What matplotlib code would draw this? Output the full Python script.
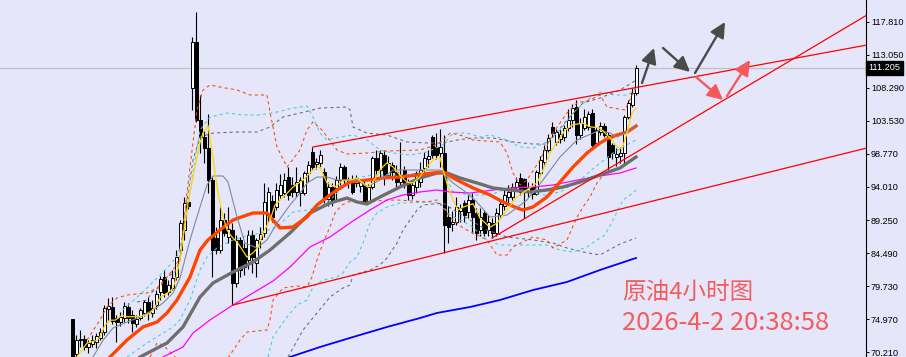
import numpy as np
import matplotlib.pyplot as plt
from matplotlib.transforms import blended_transform_factory

plt.rcParams['font.family'] = ['Noto Sans CJK SC', 'DejaVu Sans']

BG = '#e6e6fa'

# 4h candles, oldest first (open, high, low, close)
opens = [74.97, 69.90, 71.90, 72.10, 70.90, 71.40, 71.60, 72.20, 73.10, 76.40,
         76.70, 75.10, 74.60, 75.10, 76.70, 75.50, 74.20, 75.10, 75.90, 77.40,
         75.90, 77.00, 78.90, 81.00, 78.90, 79.40, 81.00, 84.90, 87.80, 91.80,
         108.30, 114.90, 103.70, 101.20, 99.60, 95.00, 86.60, 84.90, 89.25, 86.80,
         87.80, 80.20, 86.40, 85.20, 83.50, 87.10, 83.00, 86.50, 87.40, 90.00,
         92.00, 91.10, 92.90, 93.10, 95.40, 94.30, 93.30, 93.10, 93.10, 96.00,
         99.10, 97.30, 97.50, 96.20, 92.30, 94.00, 93.90, 95.00, 96.90, 94.70,
         95.00, 94.60, 94.20, 94.30, 91.90, 94.00, 98.20, 96.50, 98.60, 95.70,
         97.20, 96.20, 94.70, 96.50, 94.70, 92.90, 94.00, 94.70, 96.80, 98.00,
         101.20, 99.80, 98.90, 98.90, 89.70, 88.70, 89.00, 90.60, 91.70, 90.40,
         92.10, 90.30, 87.80, 90.30, 87.80, 88.80, 87.40, 90.00, 91.30, 92.60,
         92.60, 94.00, 95.30, 95.20, 93.30, 94.00, 93.00, 96.00, 97.60, 99.30,
         102.60, 100.50, 101.00, 101.20, 102.50, 103.70, 105.50, 101.50, 102.50, 102.70,
         104.70, 100.30, 102.00, 102.80, 101.50, 100.00, 98.30, 98.50, 98.90, 104.11,
         105.84, 107.57]
highs = [74.97, 72.70, 73.40, 72.70, 71.90, 72.70, 73.00, 73.70, 77.00, 78.00,
         78.20, 75.50, 76.00, 77.40, 77.30, 76.30, 75.50, 76.50, 77.70, 78.20,
         77.70, 79.15, 81.20, 82.00, 80.60, 82.00, 84.90, 89.25, 92.60, 92.60,
         115.65, 119.25, 107.30, 102.20, 104.50, 95.45, 88.20, 91.10, 90.30, 91.10,
         88.80, 87.10, 86.80, 85.90, 87.80, 87.80, 86.70, 88.20, 94.60, 94.00,
         92.80, 94.60, 95.90, 96.00, 96.90, 95.50, 96.90, 95.50, 96.30, 97.70,
         99.78, 98.20, 99.40, 96.70, 94.80, 94.60, 95.60, 97.50, 97.20, 95.50,
         95.70, 95.80, 95.20, 95.00, 94.50, 98.50, 99.30, 99.40, 99.35, 98.50,
         97.60, 97.20, 100.50, 97.00, 95.20, 95.00, 96.30, 97.60, 99.00, 99.30,
         101.50, 101.80, 102.40, 101.50, 91.20, 90.60, 92.60, 91.60, 92.10, 92.90,
         93.10, 91.00, 91.00, 90.70, 89.90, 89.50, 91.00, 92.30, 93.60, 94.30,
         94.60, 95.40, 96.00, 95.30, 94.80, 94.60, 96.50, 98.50, 100.00, 101.60,
         103.40, 102.40, 102.40, 103.00, 105.20, 106.00, 106.60, 104.00, 105.20, 105.00,
         105.30, 102.60, 103.40, 103.20, 101.90, 100.40, 99.60, 99.80, 104.40, 106.50,
         108.30, 111.60]
lows = [69.50, 69.50, 70.90, 70.50, 70.10, 71.00, 70.80, 71.90, 72.60, 74.80,
        74.30, 71.70, 74.00, 74.50, 74.40, 73.10, 73.80, 74.80, 75.40, 74.80,
        75.30, 76.40, 77.70, 78.10, 78.40, 79.15, 80.60, 84.20, 86.40, 90.90,
        105.10, 103.40, 98.90, 97.50, 93.10, 81.00, 84.40, 84.50, 86.90, 85.90,
        77.00, 79.60, 81.00, 81.30, 82.20, 81.60, 81.00, 85.20, 86.80, 89.00,
        88.90, 90.70, 92.40, 92.60, 92.10, 92.60, 92.60, 91.20, 92.80, 94.80,
        96.50, 96.60, 96.70, 91.70, 91.20, 91.30, 92.00, 94.30, 94.30, 93.90,
        93.00, 94.00, 93.30, 91.70, 91.50, 93.70, 95.60, 95.20, 94.30, 95.60,
        95.00, 94.00, 94.30, 93.80, 92.10, 92.30, 93.10, 94.00, 95.80, 96.90,
        98.20, 98.00, 96.90, 84.49, 86.00, 87.70, 88.50, 89.00, 89.00, 89.60,
        87.40, 86.40, 87.00, 86.90, 87.00, 86.65, 87.00, 89.60, 90.70, 91.70,
        92.10, 93.50, 92.80, 89.50, 92.60, 92.30, 92.80, 95.80, 97.10, 99.10,
        101.20, 100.00, 100.40, 100.60, 102.10, 102.60, 100.20, 101.00, 102.20, 102.20,
        99.60, 100.00, 101.50, 101.20, 96.46, 98.00, 97.10, 97.50, 97.47, 103.80,
        105.60, 107.30]
closes = [69.60, 71.90, 72.10, 70.90, 71.50, 71.90, 72.50, 73.10, 76.50, 76.80,
          74.70, 74.60, 75.30, 76.90, 75.10, 74.40, 74.90, 76.20, 77.40, 76.00,
          76.50, 78.60, 80.75, 78.70, 79.90, 80.90, 83.90, 88.80, 91.70, 91.30,
          114.90, 103.70, 101.20, 99.60, 95.00, 84.90, 84.90, 89.25, 87.40, 88.00,
          80.20, 86.40, 82.00, 82.50, 87.10, 83.90, 86.40, 87.20, 91.80, 93.30,
          89.70, 93.60, 94.30, 95.00, 92.90, 93.30, 94.70, 95.00, 96.00, 97.20,
          96.90, 97.60, 98.60, 92.30, 94.00, 92.00, 95.00, 96.90, 95.00, 95.00,
          93.30, 95.30, 94.90, 91.90, 94.00, 98.20, 96.50, 98.90, 95.70, 97.50,
          96.20, 94.70, 95.50, 94.60, 92.90, 94.30, 96.00, 96.50, 98.20, 98.50,
          98.60, 98.60, 99.80, 88.60, 88.20, 88.90, 91.10, 91.00, 90.00, 92.10,
          89.70, 87.40, 89.70, 87.40, 89.00, 87.40, 90.30, 91.60, 92.90, 93.30,
          94.00, 94.70, 93.30, 93.70, 93.90, 93.00, 96.20, 97.90, 99.30, 101.10,
          101.80, 101.90, 101.70, 102.50, 103.70, 105.40, 101.50, 103.20, 104.10, 104.50,
          100.00, 102.30, 102.80, 101.50, 98.34, 98.90, 98.80, 98.90, 104.11, 106.13,
          107.57, 111.205]
last_price = 111.205

price_ticks = [70.21, 74.97, 79.73, 84.49, 89.25, 94.01, 98.77, 103.53, 108.29, 113.05, 117.81]

# indicator lines as (bar, price)
ma_fast = [(1.25, 69.5), (3.75, 71.5), (6.25, 71.9), (7, 72.4), (8.25, 74.1), (9.5, 74.8),
           (10.75, 74.8), (12.5, 75.5), (13.75, 75.3), (16.25, 75.3), (18.25, 75.5), (19.5, 75.8),
           (20.75, 76.7), (22, 78.1), (23.75, 78.7), (25, 79.2), (25.75, 80.3), (27, 83.5),
           (29, 91.7), (30.75, 96.9), (32, 100.4), (32.75, 101.8), (34, 102.9), (35, 99.3),
           (36.25, 94.0), (37.5, 90.3), (38.75, 87.8), (40, 86.8), (41.5, 85.9), (43.75, 83.9),
           (45.25, 84.5), (46.5, 85.3), (47.75, 87.4), (49.5, 89.25), (50.75, 91.4), (53.75, 93.1),
           (55.25, 94.0), (57.75, 95.0), (60.25, 96.5), (62, 96.9), (63.75, 94.6), (65.75, 94.0),
           (67.75, 95.0), (69.5, 95.0), (71.25, 95.3), (72.75, 94.6), (74, 94.0), (75.25, 94.7),
           (77, 96.5), (78.75, 97.5), (80.25, 96.9), (82, 95.7), (83.75, 94.7), (85.25, 94.6),
           (87, 95.5), (88.75, 96.9), (90.25, 97.9), (92, 98.3), (92.75, 96.5), (94, 94.0),
           (95.25, 92.1), (96.5, 90.7), (97.75, 91.1), (100.25, 91.6), (102, 89.5), (104.5, 88.2),
           (106.25, 88.8), (108.75, 90.7), (111.25, 92.6), (113.75, 93.6), (116.25, 94.6),
           (117.75, 96.5), (119.5, 98.9), (121.25, 100.4), (123.25, 102.2), (125.25, 103.0),
           (127.75, 103.2), (129.5, 102.7), (132, 102.5), (133.25, 101.8), (134.5, 101.1),
           (136.25, 99.8), (137.5, 99.5), (138.75, 101.8), (140, 104.7), (141, 105.4)]
ma_mid = [(5.25, 69.5), (7.75, 71.9), (10.25, 73.67), (13.75, 74.54), (17, 75.26), (20.25, 76.27),
          (22.75, 77.28), (25.25, 78.72), (27, 80.88), (29.5, 86.37), (32, 91.13), (33.75, 94.30),
          (35.25, 95.60), (37.75, 95.60), (39, 94.73), (41.25, 89.68), (43.25, 85.93), (46.25, 85.21),
          (48.75, 86.37), (51.25, 88.82), (54.5, 91.41), (57, 93.14), (58.75, 94.59), (61.25, 95.45),
          (63.75, 95.45), (66.25, 95.02), (71.25, 95.02), (73.75, 94.01), (77, 95.02), (80.25, 96.46),
          (88.75, 96.46), (92, 96.46), (95.25, 94.59), (97.75, 93.58), (100.75, 92.14), (104.5, 89.68),
          (108.75, 89.97), (113.75, 92.14), (117.75, 95.02), (122, 98.34), (126.25, 100.79),
          (130.25, 101.79), (132, 102.23), (134.5, 101.79), (136.25, 101.22), (138.75, 101.94),
          (141, 102.95)]
ma_orange = [(9.5, 69.49), (13.75, 71.94), (17.75, 73.82), (21.25, 74.54), (23.75, 75.84),
             (26.25, 77.71), (29.5, 81.03), (32, 84.92), (34, 86.37), (37, 87.81), (40.25, 89.25),
             (43.75, 89.97), (45.25, 90.26), (48.75, 90.26), (50.25, 89.25), (52, 88.10), (55.25, 88.24),
             (58.75, 89.68), (61.25, 91.41), (64.5, 92.86), (66.25, 93.58), (69.5, 94.73), (73.75, 95.02),
             (77.75, 95.31), (82, 95.45), (86.25, 95.74), (90.25, 96.03), (92.75, 96.17), (96.25, 95.02),
             (100.25, 93.87), (104.5, 92.86), (107.75, 91.85), (111.25, 90.98), (112.75, 90.69),
             (115.25, 91.13), (118.75, 92.57), (122, 94.73), (125.25, 96.89), (128.75, 98.91),
             (132, 100.36), (133.75, 100.93), (136.25, 101.51), (138.75, 101.94), (141, 102.81)]
ma_gray = [(17, 69.49), (23.75, 71.51), (27.75, 73.82), (32, 78.14), (35.25, 80.16), (40.25, 81.75),
           (45.25, 83.19), (49.5, 84.92), (54.5, 87.38), (59.5, 90.26), (64.5, 91.70), (68.75, 92.42),
           (71.25, 91.85), (73.75, 91.56), (77, 92.57), (82, 94.01), (87, 95.31), (91.25, 96.03),
           (93.75, 96.03), (97, 95.31), (101.25, 94.59), (105.25, 93.87), (109.5, 93.58), (114.5, 93.29),
           (118.75, 93.58), (122.75, 94.01), (127, 94.73), (132, 95.74), (137, 96.75), (141, 98.34)]
ma_magenta = [(22.75, 69.49), (27.75, 70.93), (30.25, 72.95), (34.5, 74.83), (40.25, 76.99),
              (45.25, 78.72), (50.25, 80.45), (54.5, 82.47), (59.5, 85.36), (64.5, 86.80), (69.5, 88.82),
              (74.5, 90.69), (78.75, 92.14), (82.75, 92.86), (87, 93.29), (91.25, 93.58), (94.5, 93.29),
              (99.5, 93.14), (105.25, 93.58), (110.25, 93.87), (115.25, 94.01), (120.25, 94.30),
              (125.25, 94.88), (130.25, 95.45), (137, 96.03), (141, 96.75)]
ma_blue = [(54.5, 69.49), (62, 70.93), (70.25, 72.37), (78.75, 73.82), (87, 75.11), (91.25, 75.84),
           (99.5, 76.70), (107, 77.71), (115.25, 79.15), (123.75, 80.31), (132, 82.04), (141, 83.77)]

band_orange_up = [(3.75, 71.94), (7, 74.83), (8.75, 76.70), (11.25, 78.0), (13.75, 78.43), (18.75, 78.72),
                  (21.25, 79.44), (23.75, 81.03), (25.75, 82.47), (27, 83.91), (27.75, 88.24), (29.5, 96.89),
                  (31.25, 105.12), (32.75, 108.0), (34.5, 108.72), (37, 108.43), (41.25, 108.0),
                  (44.5, 107.28), (48.75, 107.28), (49.5, 104.83), (51.25, 99.78), (53.75, 96.89),
                  (57, 99.35), (58.75, 102.23), (60.25, 103.39), (62.5, 102.23), (66.25, 99.35),
                  (68.75, 98.77), (73.75, 98.91), (78.75, 99.20), (87, 99.35), (89.5, 99.78), (92, 100.36),
                  (94.5, 101.79), (97, 101.51), (100.25, 100.79), (107, 100.50), (108.75, 98.91),
                  (110.25, 96.03), (112, 94.30), (113.75, 95.02), (117, 97.90), (120.25, 101.79),
                  (123.75, 104.68), (126.25, 106.13), (129.5, 106.56), (132, 107.28), (133.75, 105.55),
                  (138.25, 105.12), (140, 107.28), (141, 108.29)]
band_orange_dn = [(19.5, 69.49), (21.25, 71.51), (22.75, 71.22), (24.5, 70.21), (26, 69.35),
                  (np.nan, np.nan),
                  (39, 69.35), (40, 70.21), (42, 71.94), (43.75, 73.09), (48.75, 73.38), (49.5, 74.83),
                  (50.25, 77.71), (52.75, 79.44), (56.25, 79.73), (58.75, 79.59), (60, 81.03),
                  (61.25, 83.48), (62.75, 85.93), (64.5, 88.24), (65.75, 90.26), (67.5, 91.41),
                  (69, 91.85), (81.25, 92.14), (88.75, 91.85), (91.25, 92.14), (94.5, 89.68),
                  (97.75, 88.10), (100.25, 87.38), (103.75, 86.37), (106.25, 84.20), (108.75, 84.20),
                  (110.25, 85.36), (113.75, 86.37), (115.25, 86.80), (118.75, 86.37), (120.25, 85.21),
                  (123.75, 86.37), (126.25, 89.68), (127.75, 91.13), (129.5, 92.57), (131.25, 94.59),
                  (133.75, 96.46)]
band_cyan_up = [(12.75, 76.27), (18.75, 79.44), (22, 81.32), (24.5, 82.76), (26.5, 84.20), (28.25, 88.24),
                (30, 95.45), (32, 102.23), (34.5, 104.11), (38.75, 104.68), (42.75, 104.40), (47, 104.40),
                (51.25, 104.83), (55.25, 105.40), (58.75, 105.69), (60.25, 104.11), (62, 101.79),
                (63.75, 100.79), (67, 101.22), (70.25, 101.51), (73.75, 100.79), (77, 99.35), (80.25, 98.91),
                (84.5, 98.63), (88.75, 99.06), (92.75, 100.07), (95.25, 101.79), (98.75, 101.79),
                (102, 101.22), (104.5, 101.51), (108.75, 100.79), (112, 99.78), (115.25, 99.63),
                (118.75, 100.50), (122, 102.23), (125.25, 104.68), (128.75, 106.56), (132, 107.71),
                (135.75, 107.28), (139, 107.28), (141, 108.29)]
band_cyan_mid = [(13.75, 69.49), (18.75, 71.51), (22, 72.66), (25.25, 73.82), (27, 74.83), (29.5, 77.71),
                 (32, 82.04), (33.75, 83.91), (36.25, 85.21), (40.25, 86.37), (43.75, 86.94), (47, 87.38),
                 (51.25, 88.24), (55.25, 90.40), (58.75, 90.69), (62, 91.13), (64.5, 92.14), (67, 93.58),
                 (69.5, 94.59), (72, 95.45), (75.25, 95.74), (82, 95.74), (89.5, 96.17), (93.25, 95.74),
                 (95.25, 93.29), (99.5, 92.86), (104.5, 92.86), (107.75, 93.58), (111.25, 93.58),
                 (114.5, 93.14), (118.25, 92.86), (122, 93.29), (127, 95.02), (130.75, 96.89),
                 (135.25, 98.91), (139.5, 100.36), (141, 100.79)]
band_cyan_dn = [(49, 69.49), (50.25, 72.37), (53.75, 75.26), (56.25, 76.99), (58.75, 77.71), (60.25, 79.59),
                (62.75, 80.60), (66.25, 81.03), (67.75, 81.61), (69.5, 83.19), (71.25, 83.91), (72.75, 85.93),
                (74.5, 88.82), (76.25, 90.26), (78.75, 91.13), (82, 91.70), (89.5, 91.85), (92, 91.70),
                (94.5, 89.97), (97, 89.25), (99.5, 88.53), (103.75, 86.37), (107, 85.64), (118.75, 85.64),
                (122, 84.92), (125.25, 84.64), (128.75, 85.36), (131.25, 86.37), (133.25, 87.09),
                (135.25, 89.25), (137.75, 92.14), (140.25, 93.14), (141, 93.58)]
band_gray_up = [(16.25, 77.42), (18.75, 77.71), (20, 78.87), (22, 79.59), (23.75, 81.03), (25.75, 81.75),
                (27, 83.48), (28.75, 92.14), (30.25, 97.90), (32, 101.22), (35.25, 101.79), (41.25, 101.94),
                (46.25, 101.94), (49.5, 102.66), (52.75, 104.11), (57, 104.68), (62, 105.40), (68.75, 105.55),
                (69.5, 105.12), (70.25, 102.66), (73.75, 101.79), (78.75, 101.51), (83.75, 100.50),
                (88.75, 100.36), (92.75, 100.36), (96.25, 100.79), (100.25, 101.08), (105.25, 101.08),
                (110.25, 100.50), (115.25, 100.21), (118.75, 100.21), (123.75, 103.67), (127.75, 106.13),
                (132, 106.85), (137, 108.0), (140.25, 109.15), (141, 109.44)]
band_gray_dn = [(54, 69.49), (57.75, 73.38), (61.25, 75.84), (64.5, 78.14), (67.75, 79.44), (69.5, 79.87),
                (70.25, 81.32), (74.5, 82.04), (77, 82.76), (78.75, 83.77), (81.25, 85.93), (82.75, 87.81),
                (84.5, 89.25), (86.25, 90.69), (87.75, 91.41), (92.75, 91.70), (96.25, 90.40), (99.5, 89.25),
                (103.75, 87.81), (108.75, 86.80), (115.25, 86.37), (120.25, 85.93), (123.75, 85.21),
                (127.75, 84.64), (132, 84.20), (137, 85.79), (141, 86.65)]

# hand-drawn trendlines (two anchor points each, extended to the right edge)
trend_upper = [(60.25, 99.78), (198.75, 114.49)]
trend_lower = [(40.25, 76.99), (198.75, 99.64)]
trend_steep = [(105, 86.65), (198.75, 118.82)]

# forecast arrows (start, end)
gray_arrows = [((142.5, 109.01), (145.5, 114.06)),
               ((147.75, 114.06), (154.5, 110.6)),
               ((155.75, 110.45), (163.25, 117.81))]
red_arrows = [((156, 109.88), (162.75, 106.56)),
              ((163.75, 107.14), (169.5, 112.33))]

title_cn = '原油4小时图'
stamp = '2026-4-2 20:38:58'


fig = plt.figure(figsize=(9.06, 3.57), dpi=100, facecolor=BG)
ax = fig.add_axes([0, 0, 866 / 906, 1], facecolor=BG)
ax.set_xlim(-18, 198.5)
ax.set_ylim(69.489, 120.983)

# current price line
ax.axhline(last_price, color='#c0c0c0', lw=0.9, zorder=1)

# candles
idx = np.arange(len(opens))
o = np.array(opens)
c = np.array(closes)
ax.vlines(idx, lows, highs, color='black', lw=0.8, zorder=2)
bull = c >= o
body_lo = np.minimum(o, c)
body_h = np.maximum(np.abs(c - o), 0.08)
ax.bar(idx[bull], body_h[bull], bottom=body_lo[bull], width=0.75,
       facecolor='white', edgecolor='black', lw=0.7, zorder=3)
ax.bar(idx[~bull], body_h[~bull], bottom=body_lo[~bull], width=0.75,
       facecolor='black', edgecolor='black', lw=0.7, zorder=3)


def draw(points, **kw):
    xs, ys = zip(*points)
    ax.plot(xs, ys, **kw)


dash = (0, (3, 3))
draw(band_gray_up, color='#696969', lw=0.75, ls=dash, zorder=4)
draw(band_gray_dn, color='#696969', lw=0.75, ls=dash, zorder=4)
draw(band_cyan_up, color='#40d0d0', lw=0.75, ls=dash, zorder=4)
draw(band_cyan_mid, color='#40d0d0', lw=0.75, ls=dash, zorder=4)
draw(band_cyan_dn, color='#40d0d0', lw=0.75, ls=dash, zorder=4)
draw(band_orange_up, color='#ff4500', lw=0.75, ls=dash, zorder=4)
draw(band_orange_dn, color='#ff4500', lw=0.75, ls=dash, zorder=4)

draw(ma_blue, color='#0000ff', lw=1.3, zorder=5)
draw(ma_magenta, color='#ff00ff', lw=0.9, zorder=5)
draw(ma_gray, color='#6e6e6e', lw=2.4, zorder=5)
draw(ma_orange, color='#ff4500', lw=2.4, zorder=5)
draw(ma_mid, color='#7c8a9a', lw=0.8, zorder=5)
draw(ma_fast, color='#ffd700', lw=0.9, zorder=5)

# trendlines
x_right = ax.get_xlim()[1]
for (x0, y0), (x1, y1) in (trend_upper, trend_lower, trend_steep):
    k = (y1 - y0) / (x1 - x0)
    ax.plot([x0, x_right], [y0, y0 + k * (x_right - x0)], color='#ff0000', lw=0.9, zorder=6)

for start, end in gray_arrows:
    ax.annotate('', xy=end, xytext=start,
                arrowprops=dict(arrowstyle='-|>,head_length=0.7,head_width=0.35', color='#4a4a4a',
                                lw=1.7, mutation_scale=13, shrinkA=0, shrinkB=0), zorder=7)
for start, end in red_arrows:
    ax.annotate('', xy=end, xytext=start,
                arrowprops=dict(arrowstyle='-|>,head_length=0.7,head_width=0.35', color='#f55a5a',
                                lw=1.7, mutation_scale=13, shrinkA=0, shrinkB=0), zorder=7)

# right price scale
for side in ('left', 'top', 'bottom'):
    ax.spines[side].set_visible(False)
ax.spines['right'].set_color('black')
ax.spines['right'].set_linewidth(0.8)
ax.set_xticks([])
ax.yaxis.tick_right()
ax.set_yticks(price_ticks)
ax.set_yticklabels([f'{t:.3f}' for t in price_ticks])
ax.tick_params(axis='y', direction='out', length=2.2, width=0.7, pad=1.3,
               labelsize=6.6, colors='black')
for lab in ax.get_yticklabels():
    lab.set_fontfamily('Liberation Sans')

tr = blended_transform_factory(ax.transAxes, ax.transData)
ax.text(1.003, last_price, f'{last_price:.3f}', transform=tr, ha='left', va='center',
        color='white', fontsize=6.6, family='Liberation Sans', clip_on=False, zorder=10,
        bbox=dict(boxstyle='square,pad=0.25', fc='black', ec='black'))

fig.text(622 / 906, 1 - 299 / 357, title_cn, fontsize=17, color='#f45c5c', va='baseline', ha='left',
         family=['Noto Sans CJK SC', 'DejaVu Sans'])
fig.text(622 / 906, 1 - 330 / 357, stamp, fontsize=18.4, color='#f45c5c', va='baseline', ha='left',
         family=['Noto Sans CJK SC', 'DejaVu Sans'])

fig.savefig('out.png', dpi=100, facecolor=BG)
